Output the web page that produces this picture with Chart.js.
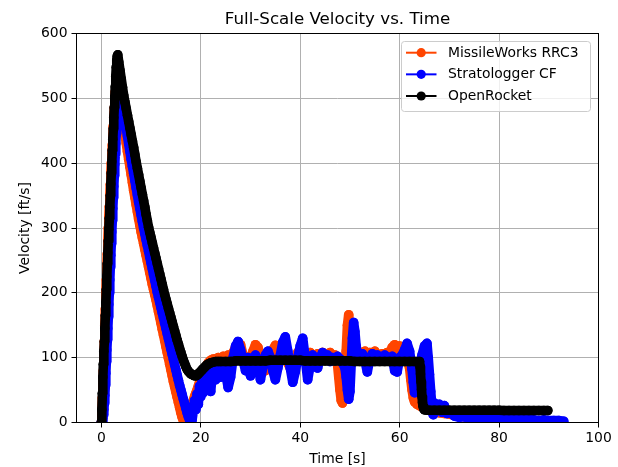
<!DOCTYPE html>
<html>
<head>
<meta charset="utf-8">
<title>Full-Scale Velocity vs. Time</title>
<script src="https://cdn.jsdelivr.net/npm/chart.js@4.4.1/dist/chart.umd.min.js"></script>
<style>
    html, body { margin: 0; padding: 0; background: #fff; }
    #wrap { width: 618px; height: 467px; }
</style>
</head>
<body>
<div id="wrap"><canvas id="velocityChart" width="618" height="467"></canvas></div>
<script>
// Full-scale flight: velocity from both altimeters vs. the OpenRocket sim

const timeTicks = [0, 20, 40, 60, 80, 100];
const velocityTicks = [0, 100, 200, 300, 400, 500, 600];

const seriesNames = ['MissileWorks RRC3', 'Stratologger CF', 'OpenRocket'];
const seriesColors = ['#ff4500', '#0000ff', '#000000'];

// [time s, velocity ft/s]
const rrc3 = [
    [0, 0], [0.1, 18], [0.2, 38], [0.3, 58], [0.4, 80], [0.5, 100], [0.6, 125], [0.7, 150], [0.8, 175], [0.9, 200],
    [1.0, 220], [1.1, 240], [1.2, 260], [1.3, 280], [1.4, 300], [1.5, 317], [1.6, 333], [1.7, 350], [1.8, 367], [1.9, 384],
    [2.0, 400], [2.1, 414], [2.2, 428], [2.3, 442], [2.4, 457], [2.5, 471], [2.6, 485], [2.7, 498], [2.8, 510], [2.9, 518],
    [3.0, 524], [3.1, 527], [3.2, 526], [3.3, 522],
    [3.5, 510], [3.75, 496], [4.0, 483], [4.25, 470], [4.5, 457], [4.75, 444], [5.0, 431], [5.25, 418], [5.5, 406], [5.75, 394],
    [6.0, 382], [6.25, 370], [6.5, 358], [6.75, 347], [7.0, 336], [7.25, 325], [7.5, 314], [7.75, 304], [8.0, 294], [8.25, 285],
    [8.5, 276], [8.75, 267], [9.0, 258], [9.25, 249], [9.5, 240], [9.75, 231], [10.0, 222], [10.25, 213], [10.5, 205], [10.75, 197],
    [11.0, 189], [11.25, 180], [11.5, 171], [11.75, 162], [12.0, 153], [12.25, 144], [12.5, 135], [12.75, 126], [13.0, 117], [13.25, 108],
    [13.5, 99], [13.75, 90], [14.0, 81], [14.25, 72], [14.5, 63], [14.75, 55], [15.0, 47], [15.25, 39], [15.5, 31], [15.75, 23],
    [16.0, 15], [16.25, 8], [16.5, 3], [16.75, 1], [17.0, 2], [17.25, 5], [17.5, 10], [17.75, 16], [18.0, 22], [18.25, 28],
    [18.5, 34], [18.75, 40], [19.0, 45], [19.25, 50], [19.5, 56], [19.75, 62], [20.0, 67], [20.25, 72], [20.5, 77], [20.75, 82],
    [21.0, 86], [21.25, 89], [21.5, 92], [21.75, 94], [22.0, 96], [22.5, 98],
    [23.0, 98], [23.5, 100], [24.0, 96], [24.5, 102], [25.0, 98], [25.5, 104], [26.0, 100], [26.5, 108], [27.0, 116], [27.5, 124],
    [28.0, 120], [28.5, 104], [29.0, 90], [29.5, 86], [30.0, 98], [30.5, 110], [31.0, 120], [31.5, 116], [32.0, 100], [32.5, 86],
    [33.0, 80], [33.5, 94], [34.0, 104], [34.5, 112], [35.0, 119], [35.5, 106], [36.0, 98], [36.5, 104], [37.0, 100], [37.5, 92],
    [38.0, 84], [38.5, 74], [39.0, 86], [39.5, 108], [40.0, 104], [40.5, 98], [41.0, 106], [41.5, 100], [42.0, 108], [42.5, 104],
    [43.0, 98], [43.5, 106], [44.0, 102], [44.5, 108], [45.0, 100], [45.5, 104], [46.0, 108], [46.5, 100], [47.0, 104], [47.5, 90],
    [47.75, 70], [48.0, 50], [48.25, 34], [48.5, 30], [48.75, 42], [49.0, 70], [49.25, 110], [49.5, 150], [49.75, 166], [50.0, 140],
    [50.25, 118], [50.5, 102], [51.0, 98], [51.5, 104], [52.0, 100], [52.5, 108], [53.0, 110], [53.5, 104], [54.0, 108], [54.5, 102],
    [55.0, 110], [55.5, 104], [56.0, 100], [56.5, 106], [57.0, 102], [57.5, 108], [58.0, 104], [58.5, 116], [59.0, 120], [59.5, 112],
    [60.0, 118], [60.5, 114], [61.0, 110], [61.5, 100], [62.0, 84], [62.25, 66], [62.5, 50], [62.75, 38], [63.0, 32], [63.5, 28],
    [64.0, 26], [64.5, 24], [65.0, 22], [65.5, 21], [66.0, 20], [67.0, 17], [68.0, 15], [69.0, 14], [70.0, 13], [71.0, 11],
    [72.0, 10], [73.0, 9], [74.0, 8], [75.0, 8], [76.0, 7], [77.0, 6], [78.0, 6], [79.0, 5], [80.0, 5], [81.0, 4],
    [82.0, 3], [83.0, 2], [83.5, 1]
];

const stratologger = [
    [0, 0], [0.1, 0], [0.2, 2], [0.3, 6], [0.4, 12], [0.5, 20], [0.6, 30], [0.7, 42], [0.8, 58], [0.9, 76],
    [1.0, 94], [1.1, 112], [1.2, 128], [1.3, 145], [1.4, 163], [1.5, 182], [1.6, 200], [1.7, 220], [1.8, 240], [1.9, 258],
    [2.0, 276], [2.1, 294], [2.2, 312], [2.3, 330], [2.4, 347], [2.5, 364], [2.6, 381], [2.7, 398], [2.8, 414], [2.9, 430],
    [3.0, 446], [3.1, 460], [3.2, 474], [3.3, 486], [3.4, 495], [3.5, 501], [3.6, 505], [3.7, 506], [3.8, 504], [3.9, 501],
    [4.0, 498], [4.25, 488], [4.5, 477], [4.75, 466], [5.0, 454], [5.25, 442], [5.5, 430], [5.75, 418], [6.0, 406], [6.25, 395],
    [6.5, 384], [6.75, 373], [7.0, 362], [7.25, 351], [7.5, 340], [7.75, 330], [8.0, 320], [8.25, 310], [8.5, 300], [8.75, 291],
    [9.0, 282], [9.25, 273], [9.5, 264], [9.75, 255], [10.0, 246], [10.25, 237], [10.5, 228], [10.75, 219], [11.0, 210], [11.25, 201],
    [11.5, 193], [11.75, 185], [12.0, 177], [12.25, 169], [12.5, 161], [12.75, 153], [13.0, 145], [13.25, 137], [13.5, 129], [13.75, 121],
    [14.0, 113], [14.25, 105], [14.5, 97], [14.75, 89], [15.0, 81], [15.25, 73], [15.5, 65], [15.75, 57], [16.0, 50], [16.25, 43],
    [16.5, 36], [16.75, 29], [17.0, 22], [17.25, 15], [17.5, 9], [17.75, 4], [18.0, 1], [18.25, 4], [18.5, 18], [18.75, 34],
    [19.0, 20], [19.25, 44], [19.5, 28], [19.75, 56], [20.0, 40], [20.25, 64], [20.5, 46], [20.75, 72], [21.0, 52], [21.25, 78],
    [21.5, 60], [21.75, 82], [22.0, 48], [22.25, 70], [22.5, 86], [23.0, 66], [23.5, 88], [24.0, 70], [24.5, 92], [25.0, 76],
    [25.5, 54], [26.0, 70], [26.5, 100], [27.0, 118], [27.5, 125], [28.0, 112], [28.5, 96], [29.0, 80], [29.5, 100], [30.0, 72],
    [30.5, 92], [31.0, 104], [31.5, 88], [32.0, 66], [32.5, 86], [33.0, 104], [33.5, 110], [34.0, 100], [34.5, 80], [35.0, 66],
    [35.5, 84], [36.0, 104], [36.5, 124], [37.0, 132], [37.5, 110], [38.0, 84], [38.5, 62], [39.0, 78], [39.5, 100], [40.0, 118],
    [40.5, 130], [41.0, 100], [41.5, 66], [42.0, 88], [42.5, 104], [43.0, 96], [43.5, 84], [44.0, 100], [44.5, 108], [45.0, 96],
    [45.5, 104], [46.0, 94], [46.5, 100], [47.0, 96], [47.5, 102], [48.0, 98], [48.5, 92], [49.0, 84], [49.25, 70], [49.5, 50],
    [49.75, 36], [50.0, 48], [50.25, 90], [50.5, 130], [50.75, 154], [51.0, 140], [51.25, 118], [51.5, 104], [52.0, 98], [52.5, 106],
    [53.0, 96], [53.5, 78], [54.0, 98], [54.5, 106], [55.0, 98], [55.5, 104], [56.0, 100], [56.5, 96], [57.0, 104], [57.5, 100],
    [58.0, 96], [58.5, 102], [59.0, 80], [59.5, 78], [60.0, 100], [60.5, 104], [61.0, 112], [61.5, 122], [62.0, 110], [62.5, 82],
    [62.75, 62], [63.0, 46], [63.25, 52], [63.5, 70], [64.0, 88], [64.5, 104], [65.0, 118], [65.5, 122], [65.75, 100], [66.0, 74],
    [66.25, 48], [66.5, 24], [66.75, 12], [67.0, 30], [67.5, 20], [68.0, 28], [68.5, 16], [69.0, 26], [69.5, 14], [70.0, 18],
    [71.0, 10], [72.0, 8], [73.0, 9], [74.0, 6], [75.0, 8], [76.0, 6], [77.0, 7], [78.0, 5], [79.0, 6], [80.0, 5],
    [81.0, 6], [82.0, 4], [83.0, 5], [84.0, 4], [85.0, 5], [86.0, 4], [87.0, 4], [88.0, 3], [89.0, 4], [90.0, 3],
    [91.0, 3], [92.0, 3], [93.0, 2]
];

const openRocket = [
    [0, 0], [0.1, 20], [0.2, 45], [0.3, 70], [0.4, 90], [0.5, 110], [0.6, 125], [0.7, 145], [0.8, 165], [0.9, 185],
    [1.0, 205], [1.1, 225], [1.2, 245], [1.3, 262], [1.4, 280], [1.5, 298], [1.6, 315], [1.7, 332], [1.8, 350], [1.9, 368],
    [2.0, 385], [2.1, 402], [2.2, 420], [2.3, 437], [2.4, 453], [2.5, 470], [2.6, 486], [2.7, 502], [2.8, 518], [2.9, 534],
    [3.0, 548], [3.1, 559], [3.2, 565], [3.3, 567],
    [3.5, 556], [3.75, 543], [4.0, 530], [4.25, 517], [4.5, 504], [4.75, 494], [5.0, 484], [5.25, 474], [5.5, 464], [5.75, 454],
    [6.0, 444], [6.25, 434], [6.5, 424], [6.75, 413], [7.0, 402], [7.25, 392], [7.5, 382], [7.75, 372], [8.0, 362], [8.25, 352],
    [8.5, 342], [8.75, 332], [9.0, 321], [9.25, 311], [9.5, 301], [9.75, 293], [10.0, 285], [10.25, 277], [10.5, 269], [10.75, 261],
    [11.0, 253], [11.25, 245], [11.5, 237], [11.75, 229], [12.0, 221], [12.25, 213], [12.5, 205], [12.75, 197], [13.0, 190], [13.25, 183],
    [13.5, 176], [13.75, 169], [14.0, 162], [14.25, 155], [14.5, 148], [14.75, 141], [15.0, 134], [15.25, 127], [15.5, 121], [15.75, 114],
    [16.0, 108], [16.25, 102], [16.5, 96], [16.75, 91], [17.0, 86], [17.25, 82], [17.5, 79], [17.75, 77], [18.0, 75], [18.25, 74],
    [18.5, 73], [18.75, 72], [19.0, 72], [19.25, 73], [19.5, 75], [19.75, 77], [20.0, 79], [20.25, 81], [20.5, 83], [20.75, 85],
    [21.0, 87], [21.25, 89], [21.5, 90], [21.75, 91], [22.0, 92], [22.5, 93], [23.0, 94], [23.5, 94],
    [24, 94], [25, 94], [26, 94], [27, 95], [28, 95], [29, 95], [30, 95], [31, 95], [32, 95], [33, 95],
    [34, 96], [35, 96], [36, 96], [37, 96], [38, 96], [39, 96], [40, 96], [41, 95], [42, 95], [43, 95],
    [44, 95], [45, 95], [46, 95], [47, 95], [48, 95], [49, 95], [50, 95], [51, 94], [52, 94], [53, 94],
    [54, 94], [55, 94], [56, 94], [57, 94], [58, 94], [59, 94], [60, 94], [61, 94], [62, 94], [63, 94],
    [64.0, 94], [64.1, 86], [64.2, 75], [64.3, 63], [64.4, 51], [64.5, 40], [64.6, 31], [64.7, 25], [64.85, 21], [65.0, 19.5],
    [65.5, 19], [66, 19], [67, 19], [68, 19], [69, 19], [70, 19], [71, 19], [72, 19], [73, 19], [74, 19],
    [75, 19], [76, 19], [77, 19], [78, 19], [79, 19], [80, 19], [81, 18.5], [82, 18.5], [83, 18.5], [84, 18.5],
    [85, 18.5], [86, 18.5], [87, 18.5], [88, 18.5], [89, 18.5], [89.8, 18.5]
];

const seriesData = [rrc3, stratologger, openRocket];

function toPoints(pairs) {
    return pairs.map(([t, v]) => ({ x: t, y: v }));
}

// legend + frame + titles, drawn the matplotlib way
const decorations = {
    id: 'decorations',
    afterDatasetsDraw(chart) {
        const { ctx, chartArea: a } = chart;
        ctx.save();
        ctx.strokeStyle = '#000';
        ctx.lineWidth = 1;
        ctx.strokeRect(a.left, a.top, a.right - a.left, a.bottom - a.top);

        // legend box, upper right
        const bx = 401.5, by = 41.5, bw = 189, bh = 70, r = 3;
        ctx.beginPath();
        ctx.roundRect(bx, by, bw, bh, r);
        ctx.fillStyle = 'rgba(255,255,255,0.8)';
        ctx.fill();
        ctx.strokeStyle = '#cccccc';
        ctx.stroke();

        ctx.font = '13.9px "DejaVu Sans"';
        ctx.textBaseline = 'middle';
        ctx.textAlign = 'left';
        seriesNames.forEach((name, i) => {
            const y = 52.7 + i * 21.65;
            ctx.strokeStyle = seriesColors[i];
            ctx.lineWidth = 2;
            ctx.beginPath();
            ctx.moveTo(406, y);
            ctx.lineTo(436.5, y);
            ctx.stroke();
            ctx.fillStyle = seriesColors[i];
            ctx.beginPath();
            ctx.arc(421.2, y, 4.6, 0, Math.PI * 2);
            ctx.fill();
            ctx.fillStyle = '#000';
            ctx.fillText(name, 448, y + 0.5);
        });
        ctx.restore();
    },
    afterDraw(chart) {
        const { ctx, chartArea: a } = chart;
        const cx = (a.left + a.right) / 2;
        ctx.save();
        ctx.fillStyle = '#000';
        ctx.textAlign = 'center';
        ctx.textBaseline = 'alphabetic';
        ctx.font = '16.7px "DejaVu Sans"';
        ctx.fillText('Full-Scale Velocity vs. Time', cx, 24);
        ctx.font = '13.9px "DejaVu Sans"';
        ctx.fillText('Time [s]', cx, 463);
        ctx.translate(29, (a.top + a.bottom) / 2);
        ctx.rotate(-Math.PI / 2);
        ctx.fillText('Velocity [ft/s]', 0, 0);
        ctx.restore();
    }
};

const axisGrid = {
    color: '#b0b0b0',
    lineWidth: 1,
    drawTicks: true,
    tickLength: 5,
    tickColor: '#000',
    tickWidth: 1
};

const ctx = document.getElementById('velocityChart').getContext('2d');

// the loggers sample so densely that the dots merge into a band,
// so the connecting line is drawn as wide as a marker
const chart = new Chart(ctx, {
    type: 'line',
    data: {
        datasets: seriesNames.map((name, i) => ({
            label: name,
            data: toPoints(seriesData[i]),
            borderColor: seriesColors[i],
            backgroundColor: seriesColors[i],
            borderWidth: 9.6,
            borderCapStyle: 'round',
            borderJoinStyle: 'round',
            pointRadius: 4.8,
            pointBorderWidth: 0,
            pointBackgroundColor: seriesColors[i],
            tension: 0,
            clip: 0,
            order: seriesNames.length - i // later series on top, like pyplot
        }))
    },
    options: {
        responsive: false,
        animation: false,
        events: [],
        devicePixelRatio: 1,
        layout: { padding: { top: 33.5, right: 19.5, bottom: 0, left: 0 } },
        font: { family: '"DejaVu Sans"' },
        plugins: {
            legend: { display: false },
            tooltip: { enabled: false },
            title: { display: false }
        },
        scales: {
            x: {
                type: 'linear',
                min: -5,
                max: 100,
                afterFit: (scale) => { scale.height = 44.5; },
                afterBuildTicks: (scale) => { scale.ticks = timeTicks.map(v => ({ value: v })); },
                grid: axisGrid,
                border: { display: false },
                ticks: {
                    color: '#000',
                    font: { family: '"DejaVu Sans"', size: 13.9 },
                    padding: 3,
                    maxRotation: 0,
                    autoSkip: false
                }
            },
            y: {
                type: 'linear',
                min: 0,
                max: 600,
                afterFit: (scale) => { scale.width = 76.5; },
                afterBuildTicks: (scale) => { scale.ticks = velocityTicks.map(v => ({ value: v })); },
                grid: axisGrid,
                border: { display: false },
                ticks: {
                    color: '#000',
                    font: { family: '"DejaVu Sans"', size: 13.9 },
                    padding: 4,
                    autoSkip: false
                }
            }
        }
    },
    plugins: [decorations]
});
</script>
</body>
</html>
